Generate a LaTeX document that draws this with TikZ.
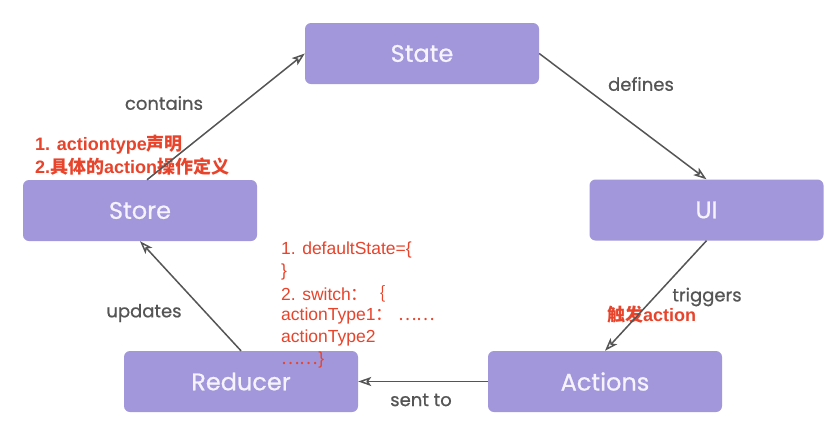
\documentclass[tikz,border=0pt]{standalone}
\usepackage{fontspec}
\setmainfont{Poppins}
\newfontfamily\medfont{Poppins}[FakeBold=0.7]
\newfontfamily\redfont{Liberation Sans}
\newfontfamily\cjk{Noto Sans CJK SC}
\usetikzlibrary{arrows.meta}
\definecolor{boxfill}{HTML}{A197DA}
\definecolor{boxtext}{HTML}{F6F3FF}
\definecolor{edgegray}{HTML}{555555}
\definecolor{notered}{HTML}{E8432B}
\tikzset{
  box/.style={draw=none, fill=boxfill, rounded corners=6pt, minimum width=234pt, minimum height=61pt, inner sep=0pt, text=boxtext, font=\medfont\fontsize{24}{28}\selectfont},
  conn/.style={draw=edgegray, line width=1.5pt, -{Stealth[open, length=13pt, width=9pt, inset=3pt]}},
  elabel/.style={text=edgegray, font=\medfont\fontsize{18}{22}\selectfont, inner sep=0pt},
  rednote/.style={text=notered, anchor=west, inner sep=0pt, font=\redfont\bfseries\fontsize{18}{22}\selectfont},
  codenote/.style={text=notered, anchor=west, inner sep=0pt, font=\redfont\fontsize{17.5}{22}\selectfont}
}
\begin{document}
\begin{tikzpicture}[x=1pt, y=-1pt]
\useasboundingbox (0,0) rectangle (828,432);
\fill[white] (0,0) rectangle (828,432);
\node[box] (state) at (422,53.5) {State};
\node[box] (ui) at (706.5,210) {UI};
\node[box] (store) at (140,210.5) {Store};
\node[box] (reducer) at (241,381.5) {Reducer};
\node[box] (actions) at (605,381.5) {Actions};
\node[rednote] (n1) at (35,145) {1. actiontype{\cjk\bfseries 声明}};
\node[rednote] (n2) at (35,167) {2.{\cjk\bfseries 具体的}action{\cjk\bfseries 操作定义}};
\node[rednote] (n3) at (607,315) {{\cjk\bfseries 触发}action};
\draw[conn] (state.east) -- (ui.north);
\draw[conn] (ui.south) -- (actions.north);
\draw[conn] (actions.west) -- (reducer.east);
\draw[conn] (reducer.north) -- (store.south);
\draw[conn] ([xshift=7pt]store.north) -- (state.west);
\node[elabel] (lcontains) at (164,103) {contains};
\node[elabel] (ldefines) at (641,84) {defines};
\node[elabel] (ltriggers) at (707,297) {triggers};
\node[elabel] (lupdates) at (144,313) {updates};
\node[elabel] (lsent) at (421,400) {sent to};
\node[codenote] (c1) at (281,250) {1. defaultState=\{};
\node[codenote] (c2) at (281,272) {\}};
\node[codenote] (c3) at (281,294) {2. switch{\cjk ：｛}};
\node[codenote] (c4) at (281,316) {actionType1{\cjk ：}\hspace{5pt}{\cjk ……}};
\node[codenote] (c5) at (281,338) {actionType2};
\node[codenote] (c6) at (281,360) {{\cjk ……}\}};
\end{tikzpicture}
\end{document}
